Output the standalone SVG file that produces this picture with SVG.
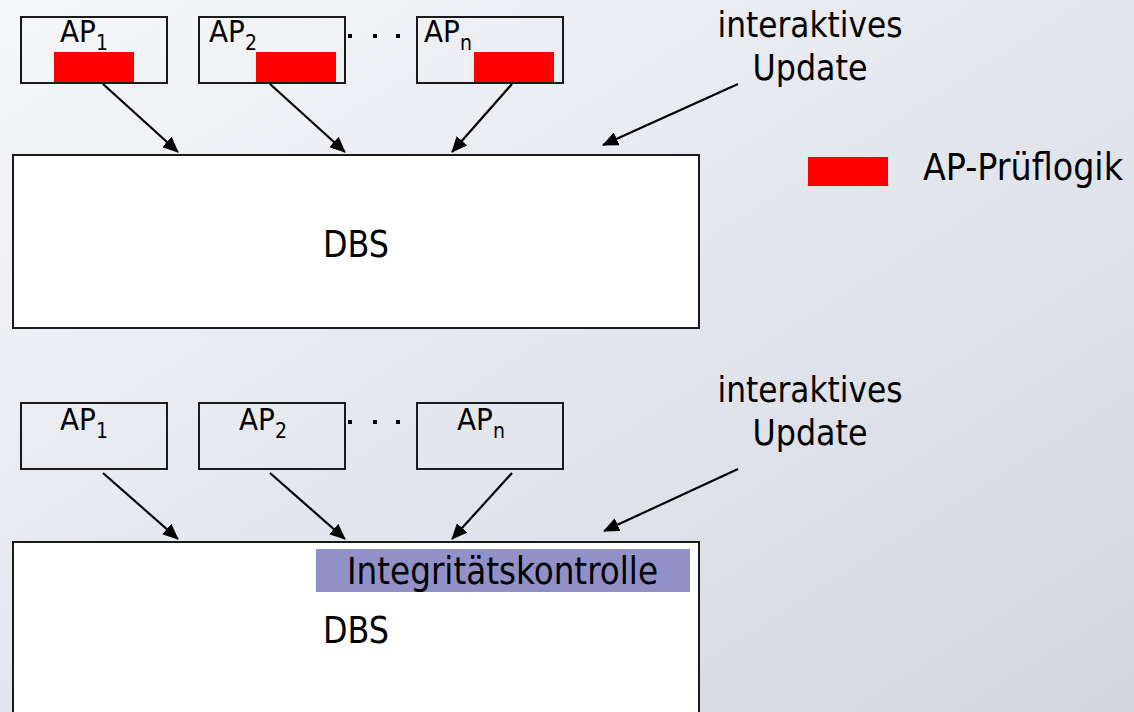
<svg xmlns="http://www.w3.org/2000/svg" width="1134" height="712" viewBox="0 0 1134 712">
  <defs>
    <linearGradient id="bg" x1="0" y1="0" x2="1" y2="1">
      <stop offset="0" stop-color="#f6f7fa"/>
      <stop offset="1" stop-color="#d2d6e1"/>
    </linearGradient>
    <marker id="ah" markerWidth="16" markerHeight="14" refX="15" refY="7" orient="auto" markerUnits="userSpaceOnUse">
      <path d="M0,0 L16,7 L0,14 Z" fill="#000"/>
    </marker>
    <style>
      .box { fill: none; stroke: #1a1a1a; stroke-width: 2; }
      .dbs { fill: #ffffff; stroke: #1a1a1a; stroke-width: 2; }
      .red { fill: #ff0000; }
      .t { font-family: "DejaVu Sans Condensed", "DejaVu Sans", sans-serif; font-stretch: condensed; fill: #000; }
      .ap { font-size: 31px; }
      .sub { font-size: 21px; }
      .big { font-size: 36px; }
      .conn line { stroke: #000; stroke-width: 2.2; marker-end: url(#ah); }
      .dot { fill: #000; }
    </style>
  </defs>
  <rect x="0" y="0" width="1134" height="712" fill="url(#bg)"/>

  <!-- Top section -->
  <g id="dbs1">
    <rect class="dbs" x="13" y="155" width="686" height="173"/>
    <text class="t big" x="323" y="257" style="font-size:37px" textLength="66" lengthAdjust="spacingAndGlyphs">DBS</text>
  </g>
  <g id="ap1-top">
    <rect class="box" x="21" y="17" width="146" height="66"/>
    <rect class="red" x="54" y="52" width="80" height="30"/>
    <text class="t ap" x="60" y="42">AP<tspan class="sub" dy="8">1</tspan></text>
  </g>
  <g id="ap2-top">
    <rect class="box" x="199" y="17" width="146" height="66"/>
    <rect class="red" x="256" y="52" width="80" height="30"/>
    <text class="t ap" x="209" y="42">AP<tspan class="sub" dy="8">2</tspan></text>
  </g>
  <g id="dots-top">
    <rect class="dot" x="348" y="34" width="4" height="4"/>
    <rect class="dot" x="373" y="34" width="4" height="4"/>
    <rect class="dot" x="396" y="34" width="4" height="4"/>
  </g>
  <g id="apn-top">
    <rect class="box" x="417" y="17" width="146" height="66"/>
    <rect class="red" x="474" y="52" width="80" height="30"/>
    <text class="t ap" x="424" y="42">AP<tspan class="sub" dy="8">n</tspan></text>
  </g>
  <g id="update-top">
    <text class="t big" x="810" y="37" text-anchor="middle" textLength="185" lengthAdjust="spacingAndGlyphs">interaktives</text>
    <text class="t big" x="810" y="80" text-anchor="middle" textLength="115" lengthAdjust="spacingAndGlyphs">Update</text>
  </g>
  <g id="legend">
    <rect class="red" x="808" y="157" width="80" height="29"/>
    <text class="t big" x="923" y="180" style="font-size:37px" textLength="200" lengthAdjust="spacingAndGlyphs">AP-Prüflogik</text>
  </g>

  <!-- Bottom section -->
  <g id="dbs2">
    <rect class="dbs" x="13" y="542" width="686" height="200"/>
    <rect x="316" y="549" width="374" height="43" fill="#9191c7"/>
    <text class="t big" x="347" y="584" style="font-size:37px" textLength="311" lengthAdjust="spacingAndGlyphs">Integritätskontrolle</text>
    <text class="t big" x="323" y="643" style="font-size:37px" textLength="66" lengthAdjust="spacingAndGlyphs">DBS</text>
  </g>
  <g id="ap1-bottom">
    <rect class="box" x="21" y="403" width="146" height="66"/>
    <text class="t ap" x="60" y="430">AP<tspan class="sub" dy="8">1</tspan></text>
  </g>
  <g id="ap2-bottom">
    <rect class="box" x="199" y="403" width="146" height="66"/>
    <text class="t ap" x="239" y="430">AP<tspan class="sub" dy="8">2</tspan></text>
  </g>
  <g id="dots-bottom">
    <rect class="dot" x="348" y="420" width="4" height="4"/>
    <rect class="dot" x="373" y="420" width="4" height="4"/>
    <rect class="dot" x="396" y="420" width="4" height="4"/>
  </g>
  <g id="apn-bottom">
    <rect class="box" x="417" y="403" width="146" height="66"/>
    <text class="t ap" x="457" y="430">AP<tspan class="sub" dy="8">n</tspan></text>
  </g>
  <g id="update-bottom">
    <text class="t big" x="810" y="402" text-anchor="middle" textLength="185" lengthAdjust="spacingAndGlyphs">interaktives</text>
    <text class="t big" x="810" y="445" text-anchor="middle" textLength="115" lengthAdjust="spacingAndGlyphs">Update</text>
  </g>

  <g id="connectors" class="conn">
    <line x1="103" y1="84" x2="178" y2="152"/>
    <line x1="270" y1="84" x2="345" y2="152"/>
    <line x1="512" y1="84" x2="452" y2="152"/>
    <line x1="738" y1="84" x2="603" y2="145"/>
    <line x1="103" y1="473" x2="178" y2="539"/>
    <line x1="270" y1="473" x2="345" y2="539"/>
    <line x1="512" y1="473" x2="452" y2="539"/>
    <line x1="738" y1="469" x2="604" y2="531"/>
  </g>
</svg>
